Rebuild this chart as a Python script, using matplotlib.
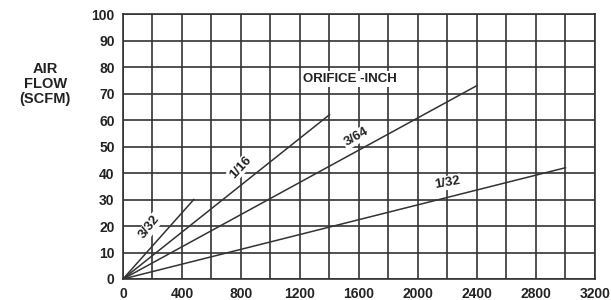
import matplotlib.pyplot as plt
from matplotlib.ticker import MultipleLocator

# orifice lines: (end pressure/x, end flow) from the origin
orifices = ['3/32', '1/16', '3/64', '1/32']
x_end = [480, 1400, 2400, 3000]
y_end = [30, 62, 73, 42]

# label positions and angles
lab_x = [180, 795, 1580, 2200]
lab_y = [19.5, 42, 53.5, 36.3]
lab_rot = [52, 47, 30, 10]

xticks = [0, 400, 800, 1200, 1600, 2000, 2400, 2800, 3200]
yticks = [0, 10, 20, 30, 40, 50, 60, 70, 80, 90, 100]

plt.rcParams['font.family'] = ['Liberation Sans', 'DejaVu Sans']
fc = '#333333'

fig = plt.figure(figsize=(6.11, 3.0), dpi=100)
ax = fig.add_axes([0.2013, 0.07, 0.7725, 0.8833])

for i in range(len(orifices)):
    ax.plot([0, x_end[i]], [0, y_end[i]], color=fc, linewidth=1.1, zorder=3)
    ax.text(lab_x[i], lab_y[i], orifices[i], rotation=lab_rot[i], ha='center', va='center',
            fontsize=9.5, fontweight='bold', color='#222222', zorder=4,
            bbox=dict(facecolor='white', edgecolor='none', pad=0.8))

ax.text(1540, 75.5, 'ORIFICE -INCH', ha='center', va='center', fontsize=9.5, fontweight='bold',
        color='#222222', zorder=4, bbox=dict(facecolor='white', edgecolor='none', pad=1.5))

ax.set_xlim(0, 3200)
ax.set_ylim(0, 100)
ax.xaxis.set_minor_locator(MultipleLocator(200))
ax.set_xticks(xticks)
ax.set_yticks(yticks)
ax.grid(True, which='both', color=fc, linewidth=1.2)
ax.tick_params(which='both', length=0, labelsize=10, pad=6, colors='#222222')
for lab in ax.get_xticklabels() + ax.get_yticklabels():
    lab.set_fontweight('bold')
for s in ax.spines.values():
    s.set_color(fc)
    s.set_linewidth(1.2)

fig.text(0.074, 0.72, 'AIR\nFLOW\n(SCFM)', ha='center', va='center', fontsize=10.5,
         fontweight='bold', color='#222222', linespacing=1.1)

fig.savefig('out.png', dpi=100)
